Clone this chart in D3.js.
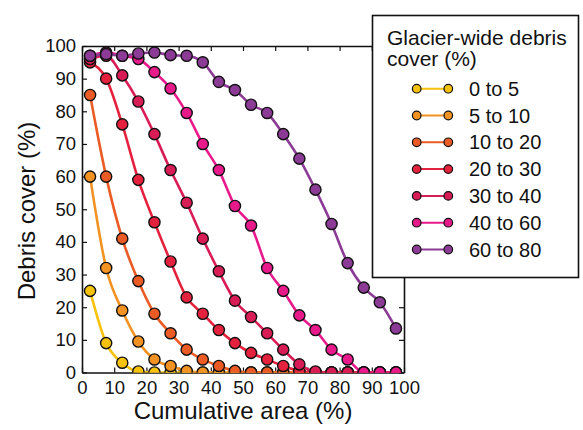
<!DOCTYPE html>
<html>
<head>
<meta charset="utf-8">
<script src="https://cdn.jsdelivr.net/npm/d3@7"></script>
<style>
  body { margin: 0; background: #fff; }
  svg text { font-family: "Liberation Sans", Arial, Helvetica, sans-serif; fill: #111; }
</style>
</head>
<body>
<svg id="chart" width="583" height="430"></svg>
<script>
// bin centres of cumulative area (%)
var areaBins = [2.5, 7.5, 12.5, 17.5, 22.5, 27.5, 32.5, 37.5, 42.5, 47.5,
                52.5, 57.5, 62.5, 67.5, 72.5, 77.5, 82.5, 87.5, 92.5, 97.5];

var groups = ["0 to 5", "5 to 10", "10 to 20", "20 to 30", "30 to 40", "40 to 60", "60 to 80"];
var colors = ["#f7c20c", "#f29222", "#ea5b25", "#e5223d", "#d81c56", "#e8198b", "#8b3b95"];

var cover0to5   = [25, 9, 3, 0.3, 0, 0, 0, 0, 0, 0, 0, 0, 0, 0, 0, 0, 0, 0, 0, 0];
var cover5to10  = [60, 32, 19, 9.5, 4, 2, 0.5, 0, 0, 0, 0, 0, 0, 0, 0, 0, 0, 0, 0, 0];
var cover10to20 = [85, 60, 41, 28, 18, 12, 7, 4, 2, 0.5, 0, 0, 0, 0, 0, 0, 0, 0, 0, 0];
var cover20to30 = [95, 90, 76, 59, 46, 34, 23, 18, 13, 9, 6, 4, 2, 0.5, 0, 0, 0, 0, 0, 0];
var cover30to40 = [96, 97, 91, 83, 73, 62, 52, 41, 31, 22, 17, 12, 7, 2.5, 0.3, 0, 0, 0, 0, 0];
var cover40to60 = [97, 98, 97, 96, 92, 87, 79.5, 70, 62, 51, 45, 32, 25, 17.5, 13, 7, 4, 0, 0, 0];
var cover60to80 = [97, 97.5, 97, 97.7, 98, 97.2, 97, 95, 89, 86.5, 82, 79.5, 73, 65.5, 56, 45.5, 33.5, 26, 21.5, 13.5];

var allSeries = [cover0to5, cover5to10, cover10to20, cover20to30, cover30to40, cover40to60, cover60to80];
var tickValues = [0, 10, 20, 30, 40, 50, 60, 70, 80, 90, 100];

var svg = d3.select("#chart");
var plotL = 82, plotR = 404, plotT = 46, plotB = 372.5;

var x = d3.scaleLinear().domain([0, 100]).range([plotL, plotR]);
var y = d3.scaleLinear().domain([0, 100]).range([plotB, plotT]);

svg.append("defs").append("clipPath").attr("id", "plotclip")
  .append("rect")
  .attr("x", plotL).attr("y", plotT)
  .attr("width", plotR - plotL).attr("height", plotB - plotT);

// frame + inward ticks
var axB = svg.append("g").attr("transform", "translate(0," + plotB + ")")
  .call(d3.axisBottom(x).tickValues(tickValues).tickSizeInner(-5).tickSizeOuter(0).tickPadding(6));
var axT = svg.append("g").attr("transform", "translate(0," + plotT + ")")
  .call(d3.axisTop(x).tickValues(tickValues).tickSizeInner(-5).tickSizeOuter(0).tickFormat(""));
var axL = svg.append("g").attr("transform", "translate(" + plotL + ",0)")
  .call(d3.axisLeft(y).tickValues(tickValues).tickSizeInner(-5).tickSizeOuter(0).tickPadding(6));
var axR = svg.append("g").attr("transform", "translate(" + plotR + ",0)")
  .call(d3.axisRight(y).tickValues(tickValues).tickSizeInner(-5).tickSizeOuter(0).tickFormat(""));

[axB, axT, axL, axR].forEach(function(a) {
  a.attr("font-size", null).attr("font-family", null);
  a.selectAll(".domain").attr("stroke", "#111").attr("stroke-width", 1.6);
  a.selectAll(".tick line").attr("stroke", "#111").attr("stroke-width", 1.2);
});
axB.selectAll(".tick text").style("font-size", "18.5px").attr("dy", "0.82em").attr("fill", "#111");
axL.selectAll(".tick text").style("font-size", "18.5px").attr("fill", "#111");

// series
var line = d3.line()
  .curve(d3.curveMonotoneX)
  .x(function(d, i) { return x(areaBins[i]); })
  .y(function(d) { return y(d); });

var plot = svg.append("g").attr("clip-path", "url(#plotclip)");
allSeries.forEach(function(vals, k) {
  var g = plot.append("g");
  g.append("path")
    .attr("d", line(vals))
    .attr("fill", "none")
    .attr("stroke", colors[k])
    .attr("stroke-width", 2.6);
  g.selectAll("circle").data(vals).enter().append("circle")
    .attr("cx", function(d, i) { return x(areaBins[i]); })
    .attr("cy", function(d) { return y(d); })
    .attr("r", 5.6)
    .attr("fill", colors[k])
    .attr("stroke", "#111")
    .attr("stroke-width", 1.4);
});

// axis titles
svg.append("text")
  .attr("x", (plotL + plotR) / 2).attr("y", 419)
  .attr("text-anchor", "middle")
  .style("font-size", "24px")
  .text("Cumulative area (%)");

svg.append("text")
  .attr("transform", "translate(35," + 211 + ") rotate(-90)")
  .attr("text-anchor", "middle")
  .style("font-size", "24px")
  .text("Debris cover (%)");

// legend
var leg = svg.append("g");
leg.append("rect")
  .attr("x", 372.5).attr("y", 15.5)
  .attr("width", 206).attr("height", 262)
  .attr("fill", "#fff")
  .attr("stroke", "#111")
  .attr("stroke-width", 1.6);
leg.append("text").attr("x", 387).attr("y", 45).style("font-size", "21px").text("Glacier-wide debris");
leg.append("text").attr("x", 387).attr("y", 66).style("font-size", "21px").text("cover (%)");

groups.forEach(function(name, k) {
  var cy = 88.7 + k * 26.8;
  var e = leg.append("g");
  e.append("line")
    .attr("x1", 416.7).attr("x2", 448.3)
    .attr("y1", cy).attr("y2", cy)
    .attr("stroke", colors[k]).attr("stroke-width", 2);
  [416.7, 448.3].forEach(function(cx) {
    e.append("circle")
      .attr("cx", cx).attr("cy", cy).attr("r", 4.3)
      .attr("fill", colors[k]).attr("stroke", "#111").attr("stroke-width", 1.2);
  });
  e.append("text")
    .attr("x", 469).attr("y", cy).attr("dy", "0.35em")
    .style("font-size", "20px")
    .text(name);
});
</script>
</body>
</html>
